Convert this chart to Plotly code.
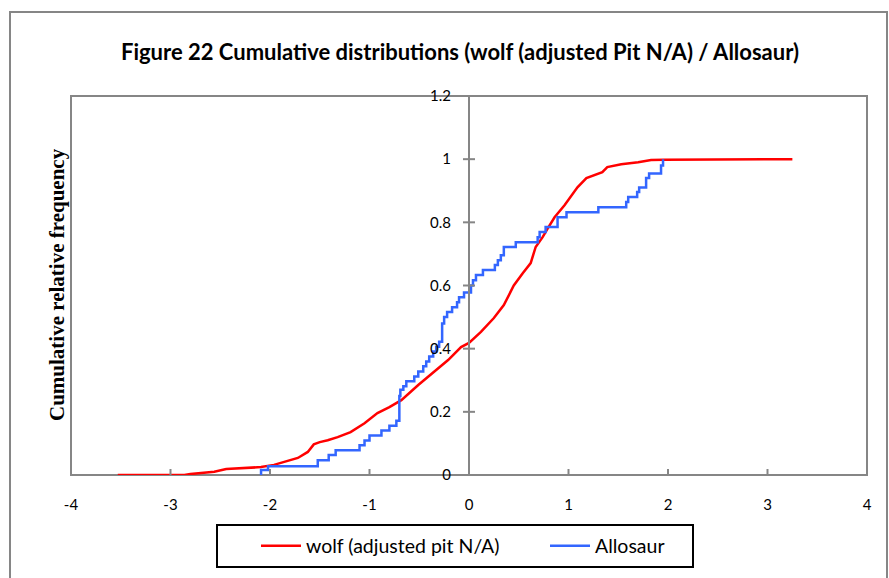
import plotly.graph_objects as go

# Cumulative relative frequency, wolf (adjusted pit N/A)
wolf_x = [-3.53, -2.86, -2.80, -2.72, -2.56, -2.44, -2.29, -2.09, -1.96, -1.82,
          -1.72, -1.62, -1.56, -1.50, -1.42, -1.32, -1.19, -1.05, -0.92, -0.80,
          -0.68, -0.51, -0.35, -0.21, -0.08, 0.00, 0.12, 0.25, 0.35, 0.42,
          0.45, 0.54, 0.62, 0.67, 0.74, 0.79, 0.86, 0.96, 1.09, 1.18,
          1.34, 1.39, 1.53, 1.70, 1.83, 1.96, 2.90, 3.25]
wolf_y = [0.000, 0.000, 0.003, 0.006, 0.010, 0.019, 0.021, 0.025, 0.032, 0.044,
          0.054, 0.073, 0.097, 0.104, 0.110, 0.120, 0.136, 0.164, 0.196, 0.215,
          0.237, 0.285, 0.326, 0.364, 0.405, 0.418, 0.453, 0.497, 0.538, 0.579,
          0.600, 0.639, 0.671, 0.722, 0.753, 0.780, 0.816, 0.854, 0.911, 0.940,
          0.959, 0.975, 0.984, 0.990, 0.997, 0.998, 0.998, 1.000]

# Cumulative relative frequency, Allosaur (step function)
allo_x = [-2.09, -2.09, -2.02, -1.52, -1.41, -1.34, -1.10, -1.05, -1.00, -0.88,
          -0.80, -0.73, -0.70, -0.69, -0.66, -0.63, -0.55, -0.51, -0.46, -0.43,
          -0.40, -0.36, -0.33, -0.30, -0.27, -0.25, -0.22, -0.17, -0.12, -0.10,
          -0.05, 0.02, 0.04, 0.07, 0.14, 0.26, 0.29, 0.32, 0.35, 0.47,
          0.69, 0.71, 0.77, 0.89, 0.98, 1.30, 1.58, 1.60, 1.69, 1.71,
          1.78, 1.81, 1.93, 1.95]
allo_y = [0.000, 0.016, 0.028, 0.047, 0.063, 0.078, 0.094, 0.109, 0.125, 0.141,
          0.156, 0.172, 0.250, 0.270, 0.281, 0.297, 0.312, 0.328, 0.344, 0.359,
          0.375, 0.391, 0.406, 0.422, 0.480, 0.500, 0.516, 0.531, 0.547, 0.563,
          0.578, 0.600, 0.617, 0.633, 0.649, 0.665, 0.680, 0.696, 0.722, 0.737,
          0.753, 0.769, 0.785, 0.816, 0.832, 0.848, 0.864, 0.880, 0.896, 0.910,
          0.940, 0.955, 0.980, 1.000]

x_ticks = [-4, -3, -2, -1, 0, 1, 2, 3, 4]
x_tick_text = ["-4", "-3", "-2", "-1", "0", "1", "2", "3", "4"]
y_ticks = [0, 0.2, 0.4, 0.6, 0.8, 1, 1.2]
y_tick_text = ["0", "0.2", "0.4", "0.6", "0.8", "1", "1.2"]

AXIS_GREY = "#868686"
TICK_FONT = dict(family="Lato", size=15, color="#000000")
LEGEND_FONT = dict(family="Lato", size=19.5, color="#000000")

# plot area spans pixels 71..867 horizontally and 96..475 vertically
PX_L, PX_R, PX_T, PX_B = 71, 867, 96, 475


def px_x(p):
    return (p - PX_L) / (PX_R - PX_L)


def px_y(p):
    return (PX_B - p) / (PX_B - PX_T)


fig = go.Figure()
fig.add_trace(go.Scatter(
    x=wolf_x, y=wolf_y, mode="lines", name="wolf (adjusted pit N/A)",
    line=dict(color="#FF0000", width=2.5), legend="legend",
))
fig.add_trace(go.Scatter(
    x=allo_x, y=allo_y, mode="lines", name="Allosaur",
    line=dict(color="#3366FF", width=2.5, shape="hv"), legend="legend2",
))

# cross-style tick marks on both axes
shapes = []
for t in x_ticks:
    shapes.append(dict(type="line", xref="x", yref="y", x0=t, x1=t,
                       ysizemode="pixel", yanchor=0, y0=-6, y1=6,
                       line=dict(color=AXIS_GREY, width=2), layer="above"))
for t in y_ticks:
    shapes.append(dict(type="line", xref="x", yref="y", y0=t, y1=t,
                       xsizemode="pixel", xanchor=0, x0=-6, x1=6,
                       line=dict(color=AXIS_GREY, width=2), layer="above"))
# plot-area frame
shapes.append(dict(type="rect", xref="paper", yref="paper", x0=0, x1=1, y0=0, y1=1,
                   line=dict(color=AXIS_GREY, width=2), layer="below"))
# outer chart frame
shapes.append(dict(type="rect", xref="paper", yref="paper",
                   x0=px_x(10), x1=px_x(887), y0=px_y(600), y1=px_y(12),
                   line=dict(color=AXIS_GREY, width=2), layer="below"))
# legend box
shapes.append(dict(type="rect", xref="paper", yref="paper",
                   x0=px_x(217), x1=px_x(693), y0=px_y(567), y1=px_y(525),
                   line=dict(color="#000000", width=2), fillcolor="white",
                   layer="below"))

legend_common = dict(
    orientation="h", xanchor="left", yanchor="middle", y=px_y(546),
    bgcolor="rgba(0,0,0,0)", borderwidth=0, font=LEGEND_FONT, itemwidth=40,
)

fig.update_layout(
    width=889, height=578,
    margin=dict(l=PX_L, r=889 - PX_R, t=PX_T, b=578 - PX_B),
    paper_bgcolor="white", plot_bgcolor="white",
    showlegend=True,
    title=dict(
        text="<b>Figure 22 Cumulative distributions (wolf (adjusted Pit N/A) / Allosaur)</b>",
        font=dict(family="Lato", size=22, color="#000000"),
        xref="container", yref="container", x=460 / 889, y=1 - 52 / 578,
        xanchor="center", yanchor="middle",
    ),
    xaxis=dict(
        range=[-4, 4], tickvals=x_ticks, ticktext=x_tick_text,
        ticks="outside", ticklen=6, tickcolor="rgba(0,0,0,0)",
        showgrid=False, zeroline=False, showline=False, tickfont=TICK_FONT,
        ticklabelstandoff=10,
    ),
    yaxis=dict(
        range=[0, 1.2], tickvals=y_ticks, ticktext=y_tick_text,
        ticks="outside", ticklen=6, tickcolor="rgba(0,0,0,0)",
        showgrid=False, zeroline=False, showline=True, linecolor=AXIS_GREY,
        linewidth=2, anchor="free", position=0.5, tickfont=TICK_FONT,
        ticklabelstandoff=8,
    ),
    legend=dict(x=px_x(256), **legend_common),
    legend2=dict(x=px_x(545), **legend_common),
    annotations=[dict(
        text="<b>Cumulative relative frequency</b>", textangle=-90,
        xref="paper", yref="paper", x=px_x(57), y=px_y(285),
        xanchor="center", yanchor="middle", showarrow=False,
        font=dict(family="Liberation Serif", size=21, color="#000000"),
    )],
    shapes=shapes,
)

fig.write_html("out.html")
